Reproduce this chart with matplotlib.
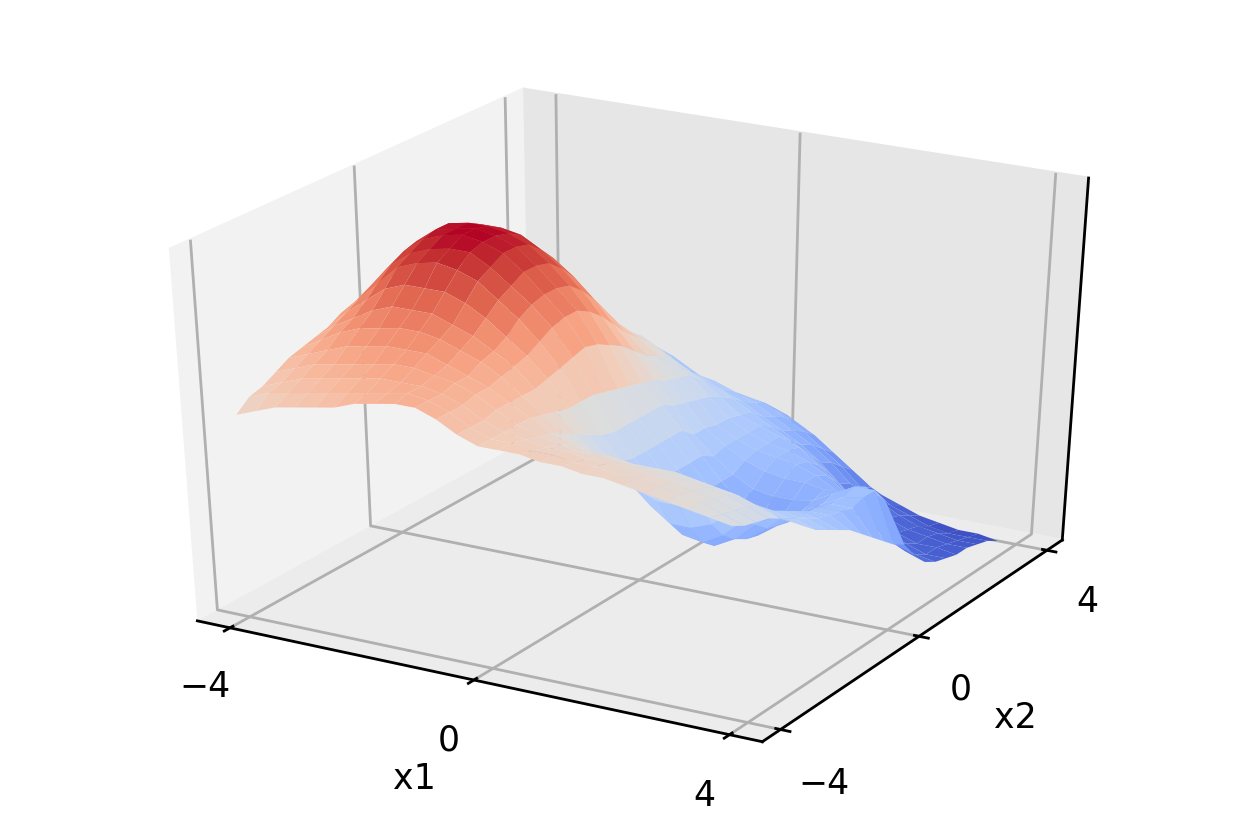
import numpy as np
import matplotlib
matplotlib.use('Agg')
import matplotlib.pyplot as plt
from matplotlib.colors import TwoSlopeNorm

plt.rcParams['font.size'] = 12.5
plt.rcParams['grid.linewidth'] = 1.0
plt.rcParams['axes.linewidth'] = 1.0
plt.rcParams['xtick.major.width'] = 1.0
plt.rcParams['ytick.major.width'] = 1.0

x1 = np.linspace(-4, 3.7, 25)
x2 = np.linspace(-4, 4, 25)
# one row per x2 value, left to right along x1
z = [
    [.56,.58,.60,.61,.62,.63,.65,.66,.67,.67,.65,.62,.60,.60,.60,.59,.59,.58,.58,.57,.56,.55,.54,.53,.52],
    [.59,.61,.62,.63,.64,.65,.66,.67,.68,.67,.65,.62,.60,.60,.59,.59,.58,.58,.57,.57,.56,.55,.54,.52,.50],
    [.60,.62,.64,.65,.66,.67,.68,.68,.68,.67,.65,.62,.60,.59,.58,.58,.57,.57,.56,.56,.55,.54,.53,.51,.49],
    [.62,.64,.66,.67,.68,.69,.70,.70,.69,.68,.66,.63,.60,.58,.57,.56,.56,.55,.55,.54,.54,.53,.52,.50,.48],
    [.64,.66,.68,.70,.71,.72,.72,.72,.70,.68,.66,.63,.60,.57,.55,.54,.54,.53,.53,.53,.52,.51,.50,.48,.46],
    [.65,.68,.71,.73,.74,.75,.75,.74,.72,.70,.67,.63,.59,.55,.52,.50,.48,.47,.47,.47,.47,.47,.46,.44,.43],
    [.66,.70,.73,.76,.78,.78,.78,.76,.74,.71,.68,.63,.58,.53,.48,.45,.41,.39,.39,.40,.42,.43,.43,.41,.40],
    [.67,.72,.76,.80,.82,.82,.82,.80,.77,.73,.69,.64,.57,.51,.45,.40,.35,.31,.31,.33,.37,.40,.40,.39,.37],
    [.69,.74,.79,.84,.86,.87,.86,.84,.80,.76,.71,.65,.57,.49,.43,.37,.31,.26,.25,.28,.33,.37,.38,.37,.35],
    [.70,.76,.82,.86,.88,.89,.89,.86,.82,.78,.73,.66,.57,.48,.42,.36,.30,.25,.22,.25,.30,.34,.36,.35,.33],
    [.71,.78,.84,.88,.90,.91,.90,.88,.84,.79,.74,.67,.56,.48,.42,.36,.30,.24,.22,.23,.27,.32,.34,.34,.31],
    [.71,.79,.85,.89,.90,.91,.90,.88,.84,.79,.74,.66,.55,.48,.42,.36,.30,.24,.21,.22,.26,.30,.33,.33,.28],
    [.72,.79,.85,.89,.90,.90,.89,.87,.83,.78,.72,.64,.54,.48,.42,.36,.30,.24,.21,.22,.25,.29,.32,.32,.25],
    [.72,.78,.83,.86,.88,.88,.87,.84,.80,.75,.69,.62,.53,.48,.42,.36,.30,.25,.22,.23,.26,.29,.32,.33,.22],
    [.72,.76,.80,.82,.84,.84,.82,.80,.76,.71,.65,.59,.52,.46,.39,.34,.30,.27,.26,.26,.27,.30,.33,.33,.19],
    [.72,.74,.76,.78,.78,.78,.76,.74,.70,.66,.61,.56,.50,.45,.39,.35,.32,.30,.29,.29,.28,.29,.31,.28,.17],
    [.70,.70,.72,.72,.73,.72,.70,.67,.64,.61,.58,.54,.49,.44,.38,.35,.33,.32,.31,.29,.26,.22,.18,.14,.12],
    [.68,.67,.67,.67,.67,.66,.64,.62,.59,.57,.55,.52,.48,.43,.38,.35,.33,.32,.30,.27,.23,.17,.13,.10,.08],
    [.65,.63,.62,.62,.61,.60,.58,.56,.55,.54,.51,.48,.45,.41,.37,.35,.33,.31,.27,.23,.18,.12,.09,.07,.06],
    [.63,.60,.58,.57,.55,.54,.53,.51,.49,.47,.46,.44,.42,.39,.36,.33,.30,.27,.23,.18,.13,.09,.07,.05,.05],
    [.60,.57,.55,.52,.50,.49,.48,.46,.45,.43,.42,.41,.38,.36,.33,.30,.27,.23,.18,.13,.09,.07,.05,.05,.04],
    [.58,.55,.52,.49,.47,.45,.44,.43,.42,.40,.39,.38,.36,.34,.31,.28,.25,.21,.16,.12,.08,.06,.05,.04,.04],
    [.56,.52,.48,.45,.43,.41,.40,.39,.38,.37,.35,.34,.33,.32,.29,.26,.22,.18,.13,.10,.07,.05,.04,.03,.03],
    [.54,.49,.46,.43,.40,.38,.37,.36,.35,.34,.32,.31,.30,.28,.26,.23,.19,.15,.11,.07,.05,.03,.02,.02,.02],
    [.52,.48,.45,.42,.40,.39,.38,.36,.33,.30,.28,.28,.27,.25,.22,.18,.14,.10,.07,.05,.03,.02,.01,.01,.00],
]
xticks = [-4, 0, 4]
yticks = [-4, 0, 4]

X, Y = np.meshgrid(x1, x2)
Z = np.array(z)

fig = plt.figure(figsize=(6.195, 4.145), dpi=200)
ax = fig.add_axes([0.1017, 0.1185, 0.8045, 0.77], projection='3d')
# old mplot3d stretched the cube to fill the axes, keep that look
ax.apply_aspect = lambda position=None: None
ax.set_box_aspect((4, 4, 4.05), zoom=1.105)
ax.plot_surface(X, Y, Z, cmap='coolwarm', norm=TwoSlopeNorm(vmin=0, vcenter=.53, vmax=.905),
                linewidth=0, rstride=1, cstride=1)
ax.set_xlim(-4.55, 4.5)
ax.set_ylim(-4.5, 4.5)
ax.set_zlim(0, 1)
ax.set_xticks(xticks)
ax.set_yticks(yticks)
ax.set_zticks([])
ax.set_xlabel('x1', labelpad=5.5)
ax.set_ylabel('x2', labelpad=5.5)
ax.xaxis.set_pane_color((.95, .95, .95, 1))
ax.yaxis.set_pane_color((.90, .90, .90, 1))
ax.zaxis.set_pane_color((.925, .925, .925, 1))
fig.savefig('out.png', dpi=200)
